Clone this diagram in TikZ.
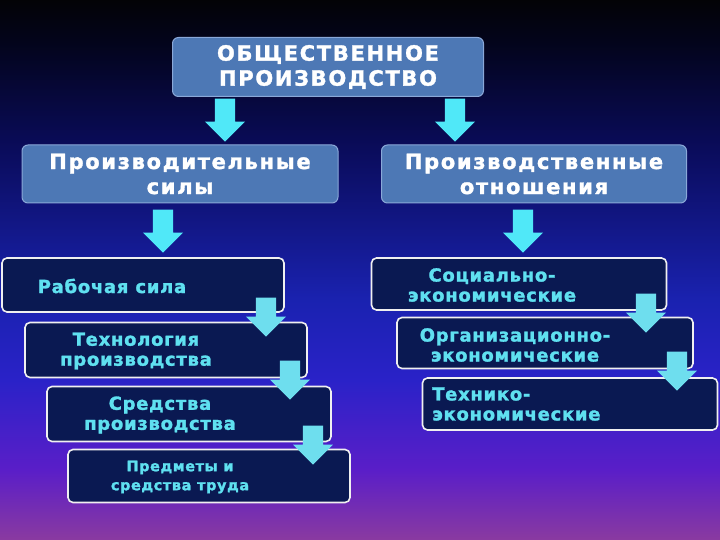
\documentclass[tikz,border=0pt]{standalone}
\usepackage{fontspec}
\setmainfont{DejaVu Sans}[LetterSpace=4, BoldFeatures={FakeBold=1.5}]
\usepackage{tikz}
\usetikzlibrary{shapes,arrows,positioning}

\definecolor{bgK}{RGB}{3,3,6}
\definecolor{bgT}{RGB}{3,4,26}
\definecolor{bgA}{RGB}{10,12,92}
\definecolor{bgB}{RGB}{26,34,176}
\definecolor{bgC}{RGB}{42,34,200}
\definecolor{bgD}{RGB}{90,30,200}
\definecolor{bgE}{RGB}{138,58,160}
\definecolor{boxblue}{RGB}{77,120,181}
\definecolor{boxedge}{RGB}{138,168,216}
\definecolor{darkbox}{RGB}{10,25,82}
\definecolor{textcyan}{RGB}{95,224,240}
\definecolor{arrowcyan}{RGB}{80,232,248}
\definecolor{arrowsoft}{RGB}{110,222,238}

\pgfdeclareverticalshading{bgshade}{100bp}{color(0bp)=(bgE); color(25bp)=(bgE); color(31.5bp)=(bgD); color(39.8bp)=(bgC); color(47.2bp)=(bgB); color(61.1bp)=(bgA); color(71.3bp)=(bgT); color(75bp)=(bgK); color(100bp)=(bgK)}

\begin{document}
\begin{tikzpicture}[x=1pt, y=-1pt,
    mainbox/.style={rectangle, rounded corners=6pt, draw=boxedge, line width=1pt, fill=boxblue, text=white, align=center, inner sep=0pt, font=\fontsize{21}{25}\selectfont\bfseries\addfontfeature{LetterSpace=8}},
    levelbox/.style={rectangle, rounded corners=5pt, draw=white!88!gray, line width=1.6pt, fill=darkbox, inner sep=0pt},
    leveltext/.style={text=textcyan, align=center, inner sep=0pt, font=\fontsize{18}{20}\selectfont\bfseries},
    bigarrow/.style={single arrow, shape border rotate=270, draw=none, fill=arrowcyan, minimum height=43pt, minimum width=40pt, single arrow head extend=10pt, inner sep=10pt, anchor=tip},
    smallarrow/.style={bigarrow, fill=arrowsoft, minimum height=39pt}]

    \shade[shading=bgshade] (0,0) rectangle (720,540);
    \useasboundingbox (0,0) rectangle (720,540);

    \node [mainbox, minimum width=311pt, minimum height=59pt] (top) at (328,67) {ОБЩЕСТВЕННОЕ\\ПРОИЗВОДСТВО};
    \node [mainbox, minimum width=316pt, minimum height=58pt] (forces) at (180,174) {Производительные\\силы};
    \node [mainbox, minimum width=305pt, minimum height=58pt] (relations) at (534,174) {Производственные\\отношения};

    \node [levelbox, minimum width=282pt, minimum height=54pt] (labour) at (143,285) {};
    \node [levelbox, minimum width=282pt, minimum height=55pt] (tech) at (166,350) {};
    \node [levelbox, minimum width=284pt, minimum height=55pt] (means) at (189,414) {};
    \node [levelbox, minimum width=282pt, minimum height=53pt] (objects) at (209,476) {};

    \node [levelbox, minimum width=295pt, minimum height=52pt] (social) at (519,284) {};
    \node [levelbox, minimum width=296pt, minimum height=51pt] (org) at (545,343) {};
    \node [levelbox, minimum width=295pt, minimum height=52pt] (techeco) at (570,404) {};

    \node [leveltext] (labourtxt) at (112,286) {Рабочая сила};
    \node [leveltext] (techtxt) at (136,351) {Технология\\производства};
    \node [leveltext] (meanstxt) at (160,415) {Средства\\производства};
    \node [leveltext, font=\fontsize{14.5}{19}\selectfont\bfseries] (objectstxt) at (180,477) {Предметы и\\средства труда};

    \node [leveltext] (socialtxt) at (492,285) {Социально-\\экономические};
    \node [leveltext] (orgtxt) at (515,345) {Организационно-\\экономические};
    \node [leveltext, align=left, anchor=west] (techecotxt) at (432,404) {Технико-\\экономические};

    \node [bigarrow] (a1) at (225,142) {};
    \node [bigarrow] (a2) at (455,142) {};
    \node [bigarrow] (a3) at (163,253) {};
    \node [bigarrow] (a4) at (523,253) {};

    \node [smallarrow] (s1) at (266,337) {};
    \node [smallarrow] (s2) at (290,400) {};
    \node [smallarrow] (s3) at (313,465) {};
    \node [smallarrow] (s4) at (646,333) {};
    \node [smallarrow] (s5) at (677,391) {};
\end{tikzpicture}
\end{document}
